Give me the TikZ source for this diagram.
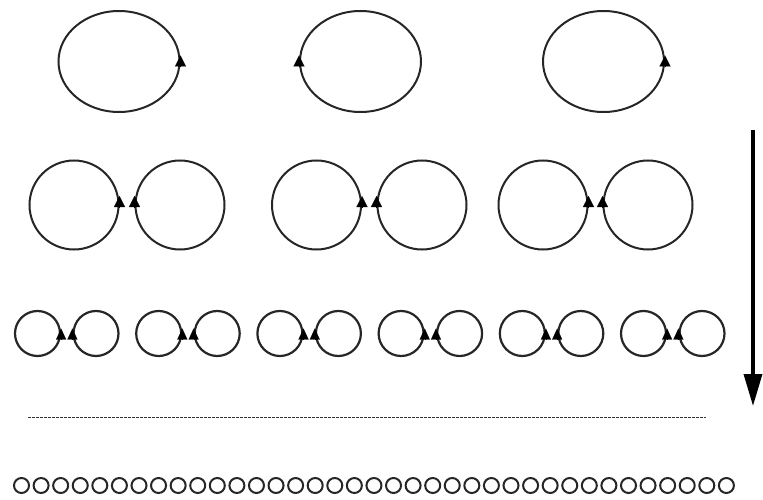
\documentclass[tikz,border=0pt]{standalone}
\usetikzlibrary{shapes.geometric,arrows.meta}
\begin{document}
\begin{tikzpicture}[x=1pt,y=-1pt,
  loopA/.style={draw=black!85,ellipse,inner sep=0pt,line width=2pt,minimum width=121pt,minimum height=101pt},
  loopB/.style={draw=black!85,circle,inner sep=0pt,line width=2pt,minimum size=89pt},
  loopC/.style={draw=black!85,circle,inner sep=0pt,line width=2.2pt,minimum size=45pt},
  loopD/.style={draw=black!85,circle,inner sep=0pt,line width=2pt,minimum size=15pt},
  tipA/.style={-{Triangle[width=11pt,length=11pt]},line width=0.1pt},
  tipC/.style={-{Triangle[width=10pt,length=11pt]},line width=0.1pt},
  bigarrow/.style={line width=3.5pt,-{Triangle[width=18pt,length=32pt]}}]
\useasboundingbox (0,0) rectangle (763,500);
% row 1
\node[loopA] (e1) at (119,61.5) {};
\node[loopA] (e2) at (360.5,61.5) {};
\node[loopA] (e3) at (603.5,61.5) {};
\draw[tipA] ([yshift=-6pt]e1.east) -- ([yshift=6pt]e1.east);
\draw[tipA] ([yshift=-6pt]e2.west) -- ([yshift=6pt]e2.west);
\draw[tipA] ([yshift=-6pt]e3.east) -- ([yshift=6pt]e3.east);
% row 2
\foreach \i/\l/\r in {1/74/180,2/316.5/422,3/543/648}{
  \node[loopB] (bl\i) at (\l,205) {};
  \node[loopB] (br\i) at (\r,205) {};
  \draw[tipA] ([yshift=-2pt]bl\i.east) -- ([yshift=9pt]bl\i.east);
  \draw[tipA] ([yshift=-2pt]br\i.west) -- ([yshift=9pt]br\i.west);
}
% row 3
\foreach \i in {0,...,5}{
  \node[loopC] (cl\i) at ({37.5+121.2*\i},333.5) {};
  \node[loopC] (cr\i) at ({96+121.2*\i},333.5) {};
  \draw[tipC] ([yshift=-5pt]cl\i.east) -- ([yshift=5pt]cl\i.east);
  \draw[tipC] ([yshift=-5pt]cr\i.west) -- ([yshift=5pt]cr\i.west);
}
% dashed line
\coordinate (d1) at (28,417);
\coordinate (d2) at (706,417);
\draw[black!80,line width=1pt,dash pattern=on 3pt off 1pt] (d1) -- (d2);
% bottom row
\foreach \i in {0,...,36}{
  \node[loopD] (s\i) at ({21.5+19.58*\i},485.5) {};
}
% big arrow
\coordinate (a1) at (753,130);
\coordinate (a2) at (753,406);
\draw[bigarrow] (a1) -- (a2);
\end{tikzpicture}
\end{document}
